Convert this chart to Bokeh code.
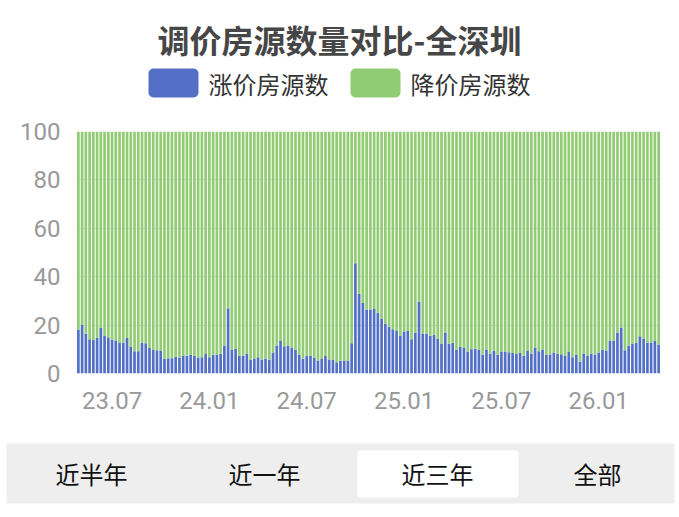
import pandas as pd
from bokeh.plotting import figure
from bokeh.layouts import column
from bokeh.models import Range1d, FixedTicker, ColumnDataSource
from bokeh.core.properties import value
from bokeh.embed import file_html
from bokeh.resources import INLINE

# ---------------- data ----------------
weeks = pd.date_range("2023-05-04", periods=156, freq="7D")
up_pct = [18.2, 20.2, 16.4, 14.2, 13.8, 14.7, 19.0, 15.7, 15.0, 13.9,
          13.6, 12.8, 12.8, 14.7, 11.0, 9.2, 9.2, 12.7, 12.5, 10.5,
          9.9, 9.6, 9.5, 6.1, 6.3, 6.3, 6.9, 6.6, 7.4, 7.3,
          7.9, 7.4, 6.6, 6.7, 8.1, 6.7, 7.7, 7.9, 8.2, 11.6,
          27.0, 9.9, 10.2, 7.3, 7.3, 8.3, 5.8, 6.2, 6.7, 5.8,
          6.2, 5.8, 8.7, 11.6, 13.4, 11.3, 11.6, 10.6, 9.8, 7.9,
          6.1, 7.3, 7.3, 6.6, 5.4, 6.2, 7.2, 5.8, 5.8, 4.6,
          5.3, 5.4, 5.4, 12.5, 45.6, 32.8, 29.1, 26.4, 26.4, 26.7,
          25.1, 22.7, 20.7, 19.3, 18.3, 17.6, 15.7, 17.4, 17.6, 14.2,
          16.9, 29.8, 16.5, 16.5, 15.6, 16.0, 14.3, 12.4, 16.9, 12.3,
          12.7, 9.9, 11.0, 10.7, 9.1, 10.0, 10.2, 9.9, 7.9, 9.9,
          8.3, 9.4, 7.7, 9.1, 9.1, 8.8, 8.5, 8.1, 8.5, 7.3,
          9.5, 8.3, 10.7, 9.2, 9.9, 7.9, 7.9, 8.7, 8.1, 8.0,
          7.2, 9.1, 6.7, 7.6, 5.0, 8.3, 7.3, 8.3, 7.9, 8.7,
          9.9, 9.5, 13.4, 13.6, 16.9, 19.0, 9.6, 11.6, 12.3, 12.8,
          15.4, 14.5, 12.8, 12.8, 13.5, 12.0]
series_names = ["涨价房源数", "降价房源数"]
title_text = "调价房源数量对比-全深圳"
y_ticks = [0, 20, 40, 60, 80, 100]
tab_labels = ["近半年", "近一年", "近三年", "全部"]
selected_tab = "近三年"

BLUE = "#5470c6"
GREEN = "#91cc75"
CJK = "Noto Sans CJK SC"
W = 676

idx = list(range(len(weeks)))
tick_idx = [i for i, d in enumerate(weeks) if d.month in (1, 7) and d.day <= 7]
tick_lbl = {i: weeks[i].strftime("%y.%m") for i in tick_idx}

src = ColumnDataSource(dict(x=idx, up=up_pct, top=[100] * len(idx)))


def free_frame(fig):
    # keep each figure's own frame instead of aligning frames in the column
    try:
        fig.frame_align = False
    except Exception:
        pass


# ---------------- header ----------------
H1 = 116
h = figure(width=W, height=H1, x_range=Range1d(0, W), y_range=Range1d(H1, 0),
           x_axis_type=None, y_axis_type=None, toolbar_location=None,
           output_backend="svg", min_border=0, outline_line_color=None)
free_frame(h)
h.text(x=[339], y=[38], text=[title_text], text_font=value(CJK),
       text_font_size=value("32px"), text_font_style="bold", text_color="#464646",
       text_align="center", text_baseline="middle")
h.quad(left=[148, 350], right=[198, 400], top=[68, 68], bottom=[97, 97],
       fill_color=[BLUE, GREEN], line_color=None, border_radius=5)
h.text(x=[208, 410], y=[83, 83], text=series_names, text_font=value(CJK),
       text_font_size=value("24px"), text_color="#333333",
       text_align="left", text_baseline="middle")

# ---------------- main chart ----------------
H2 = 319
p = figure(width=W, height=H2, x_range=Range1d(-0.5, len(idx) - 0.5),
           y_range=Range1d(0, 100), toolbar_location=None, output_backend="svg",
           min_border_left=76, min_border_right=W - 660, min_border_top=131 - H1,
           min_border_bottom=H1 + H2 - 373, outline_line_color=None)
free_frame(p)
p.vbar(x="x", width=0.72, bottom=0, top="up", source=src, fill_color=BLUE,
       line_color=None)
p.vbar(x="x", width=0.72, bottom="up", top="top", source=src, fill_color=GREEN,
       line_color=None)

p.xgrid.visible = False
p.ygrid.grid_line_color = "#e0e6f1"
p.ygrid.ticker = FixedTicker(ticks=y_ticks)

p.yaxis.ticker = FixedTicker(ticks=y_ticks)
p.xaxis.ticker = FixedTicker(ticks=tick_idx)
p.xaxis.major_label_overrides = tick_lbl
for ax in (p.xaxis, p.yaxis):
    ax.axis_line_color = None
    ax.major_tick_line_color = None
    ax.minor_tick_line_color = None
    ax.major_tick_out = 0
    ax.minor_tick_out = 0
    ax.major_label_text_font = "Roboto"
    ax.major_label_text_font_size = "24px"
    ax.major_label_text_color = "#999999"
p.yaxis.major_label_standoff = 16
p.xaxis.major_label_standoff = 18

# ---------------- footer tabs ----------------
H3 = 513 - H1 - H2
f = figure(width=W, height=H3, x_range=Range1d(0, W), y_range=Range1d(H1 + H2 + H3, H1 + H2),
           x_axis_type=None, y_axis_type=None, toolbar_location=None,
           output_backend="svg", min_border=0, outline_line_color=None)
free_frame(f)
f.quad(left=[6], right=[674], top=[443], bottom=[503], fill_color="#eeeeee", line_color=None)
tab_x = [91, 264, 437, 597]
sel = tab_labels.index(selected_tab)
f.quad(left=[357], right=[518], top=[450], bottom=[497],
       fill_color="white", line_color=None, border_radius=3)
f.text(x=tab_x, y=[473] * 4, text=tab_labels, text_font=value(CJK),
       text_font_size=value("24px"), text_color="#111111",
       text_align="center", text_baseline="middle")

layout = column(h, p, f, spacing=0)
open("out.html", "w").write(file_html(layout, INLINE))
